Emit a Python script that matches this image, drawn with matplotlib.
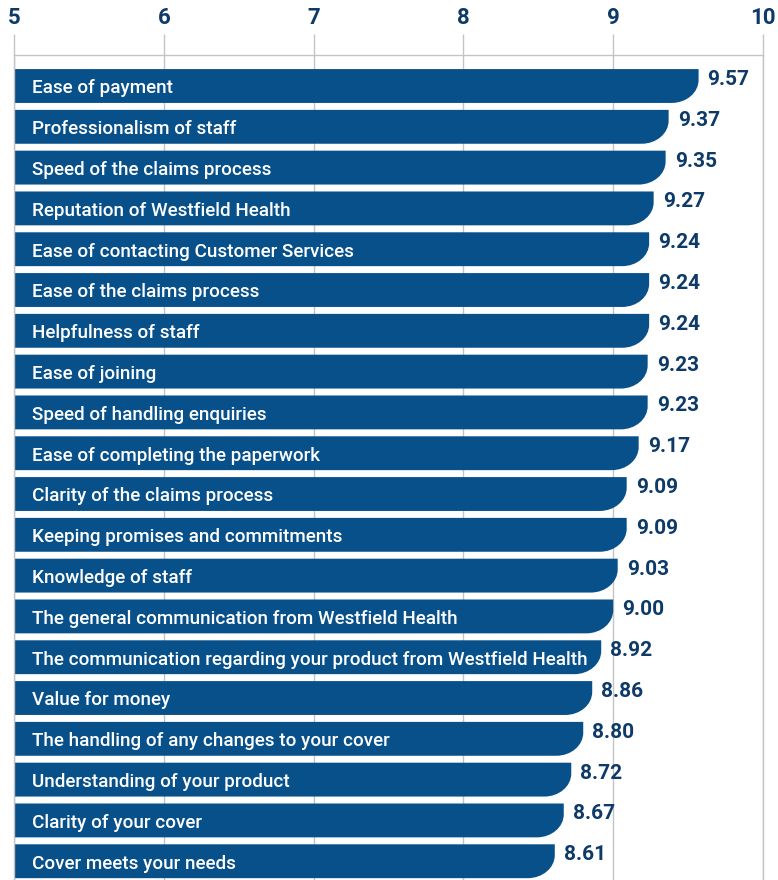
import matplotlib.pyplot as plt
from matplotlib.path import Path
import matplotlib.patches as patches

categories = [
    "Ease of payment",
    "Professionalism of staff",
    "Speed of the claims process",
    "Reputation of Westfield Health",
    "Ease of contacting Customer Services",
    "Ease of the claims process",
    "Helpfulness of staff",
    "Ease of joining",
    "Speed of handling enquiries",
    "Ease of completing the paperwork",
    "Clarity of the claims process",
    "Keeping promises and commitments",
    "Knowledge of staff",
    "The general communication from Westfield Health",
    "The communication regarding your product from Westfield Health",
    "Value for money",
    "The handling of any changes to your cover",
    "Understanding of your product",
    "Clarity of your cover",
    "Cover meets your needs",
]
scores = [9.57, 9.37, 9.35, 9.27, 9.24, 9.24, 9.24, 9.23, 9.23, 9.17,
          9.09, 9.09, 9.03, 9.00, 8.92, 8.86, 8.80, 8.72, 8.67, 8.61]
x_ticks = [5, 6, 7, 8, 9, 10]

bar_color = "#08508a"
num_color = "#0e3a68"
grid_color = "#c4c4c4"

plt.rcParams['font.family'] = ['Roboto', 'DejaVu Sans']

fig = plt.figure(figsize=(7.78, 8.8), dpi=100)
ax = fig.add_axes([14 / 778, 0, 749 / 778, 825 / 880])

ax.set_xlim(5, 10)
ax.set_ylim(19.46, -0.76)

# pixel -> data scale for the rounded corner
px_x = 5 / 749
px_y = (19.46 + 0.76) / 825
rx = 27 * px_x
ry = 23 * px_y
h = 0.83
k = 0.5523

for i, (name, v) in enumerate(zip(categories, scores)):
    top = i - h / 2
    bot = i + h / 2
    verts = [
        (5, top),
        (v, top),
        (v, bot - ry),
        (v, bot - ry + k * ry),
        (v - rx + k * rx, bot),
        (v - rx, bot),
        (5, bot),
        (5, top),
    ]
    codes = [Path.MOVETO, Path.LINETO, Path.LINETO, Path.CURVE4,
             Path.CURVE4, Path.CURVE4, Path.LINETO, Path.CLOSEPOLY]
    ax.add_patch(patches.PathPatch(Path(verts, codes), facecolor=bar_color,
                                   edgecolor='none', zorder=2))
    ax.text(5 + 18 * px_x, i + 0.06, name, color='white', fontsize=13.6,
            fontweight='medium', va='center', ha='left', zorder=3)
    ax.text(v + 9 * px_x, i - 0.16, f"{v:.2f}", color=num_color, fontsize=15,
            fontweight='bold', va='center', ha='left', zorder=3)

ax.set_xticks(x_ticks)
ax.set_xticklabels([str(t) for t in x_ticks])
ax.xaxis.tick_top()
ax.tick_params(axis='x', length=15, width=1, color=grid_color, pad=4,
               labelsize=16, labelcolor=num_color)
for lbl in ax.get_xticklabels():
    lbl.set_fontweight('bold')
ax.set_yticks([])

ax.grid(axis='x', color=grid_color, linewidth=1, zorder=0)
ax.set_axisbelow(True)

for side in ['top', 'right', 'left']:
    ax.spines[side].set_color(grid_color)
    ax.spines[side].set_linewidth(1)
ax.spines['bottom'].set_visible(False)

fig.savefig("out.png", dpi=100)
